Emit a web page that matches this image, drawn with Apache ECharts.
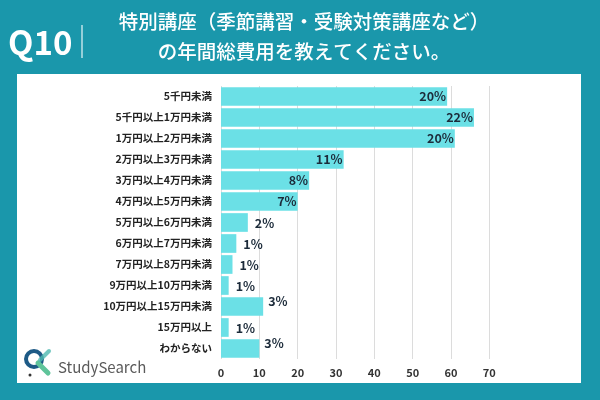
<!DOCTYPE html>
<html><head><meta charset="utf-8">
<script src="https://cdn.jsdelivr.net/npm/echarts@6/dist/echarts.min.js"></script>
<style>html,body{margin:0;padding:0;background:#1a97ab}#c{width:600px;height:400px}</style>
</head><body><div id="c"></div>
<script>
const categories = ['5千円未満','5千円以上1万円未満','1万円以上2万円未満','2万円以上3万円未満','3万円以上4万円未満','4万円以上5万円未満','5万円以上6万円未満','6万円以上7万円未満','7万円以上8万円未満','9万円以上10万円未満','10万円以上15万円未満','15万円以上','わからない'];
const values = [59, 66, 61, 32, 23, 20, 7, 4, 3, 2, 11, 2, 10];
const percentLabels = ['20%','22%','20%','11%','8%','7%','2%','1%','1%','1%','3%','1%','3%'];
const labelStyles = ['in','in','in','in','in','in','out','out','out','out','up','out','up'];
const xTicks = [0, 10, 20, 30, 40, 50, 60, 70];

const F = '"Noto Sans CJK JP", "Noto Sans", sans-serif';
const chart = echarts.init(document.getElementById('c'));
const data = values.map((v, i) => {
  const s = labelStyles[i];
  let label;
  if (s === 'in') label = {position: 'insideRight', distance: 1, offset: [0, 0]};
  else if (s === 'out') label = {position: 'right', distance: 7, offset: [0, 1], fontWeight: 600};
  else label = {position: 'right', distance: 5, offset: [0, -5], fontWeight: 600};
  return {value: v, label: Object.assign({show: true, formatter: percentLabels[i]}, label)};
});
chart.setOption({
  backgroundColor: '#1a97ab',
  animation: false,
  graphic: [
    {type: 'rect', shape: {x: 17, y: 74, width: 564, height: 309}, style: {fill: '#ffffff'}, z: -10},
    {type: 'text', left: 8, top: 26, style: {text: 'Q10', fill: '#fff', font: 'bold 33px ' + F}},
    {type: 'line', shape: {x1: 82, y1: 25, x2: 82, y2: 58}, style: {stroke: '#e8f6f8', lineWidth: 1.2}},
    {type: 'text', x: 304, y: 22, style: {text: '特別講座（季節講習・受験対策講座など）', fill: '#fff', font: '500 19.5px ' + F, align: 'center', verticalAlign: 'middle'}},
    {type: 'text', x: 304, y: 52, style: {text: 'の年間総費用を教えてください。', fill: '#fff', font: '500 19.5px ' + F, align: 'center', verticalAlign: 'middle'}},
    {type: 'circle', shape: {cx: 34, cy: 359, r: 8}, style: {fill: 'none', stroke: '#1d5a86', lineWidth: 4}},
    {type: 'line', shape: {x1: 38, y1: 363, x2: 48, y2: 373}, style: {stroke: '#5fc49a', lineWidth: 5, lineCap: 'round'}},
    {type: 'line', shape: {x1: 40, y1: 360, x2: 49, y2: 351}, style: {stroke: '#4fb9b0', lineWidth: 4, lineCap: 'round', opacity: 0.8}},
    {type: 'circle', shape: {cx: 30, cy: 375, r: 1.5}, style: {fill: '#333'}},
    {type: 'text', x: 58, y: 367, style: {text: 'StudySearch', fill: '#5a5a5a', font: '15px ' + F, verticalAlign: 'middle'}}
  ],
  grid: {left: 221, right: 110.7, top: 86, bottom: 41, containLabel: false},
  xAxis: {
    type: 'value', min: 0, max: 70, interval: 10,
    axisLine: {show: false}, axisTick: {show: false},
    splitLine: {lineStyle: {color: '#dcdcdc', width: 1}},
    axisLabel: {color: '#333', fontFamily: F, fontWeight: 'bold', fontSize: 11, margin: 8,
      formatter: v => xTicks.includes(v) ? String(v) : ''}
  },
  yAxis: {
    type: 'category', data: categories, inverse: true,
    axisLine: {show: false}, axisTick: {show: false},
    axisLabel: {color: '#222', fontFamily: F, fontWeight: 'bold', fontSize: 10.5, margin: 9}
  },
  series: [{
    type: 'bar', data: data, barCategoryGap: '11%',
    itemStyle: {color: '#6be0e6'},
    label: {color: '#1c2b3a', fontFamily: F, fontWeight: 'bold', fontSize: 12.5}
  }]
});
</script></body></html>
